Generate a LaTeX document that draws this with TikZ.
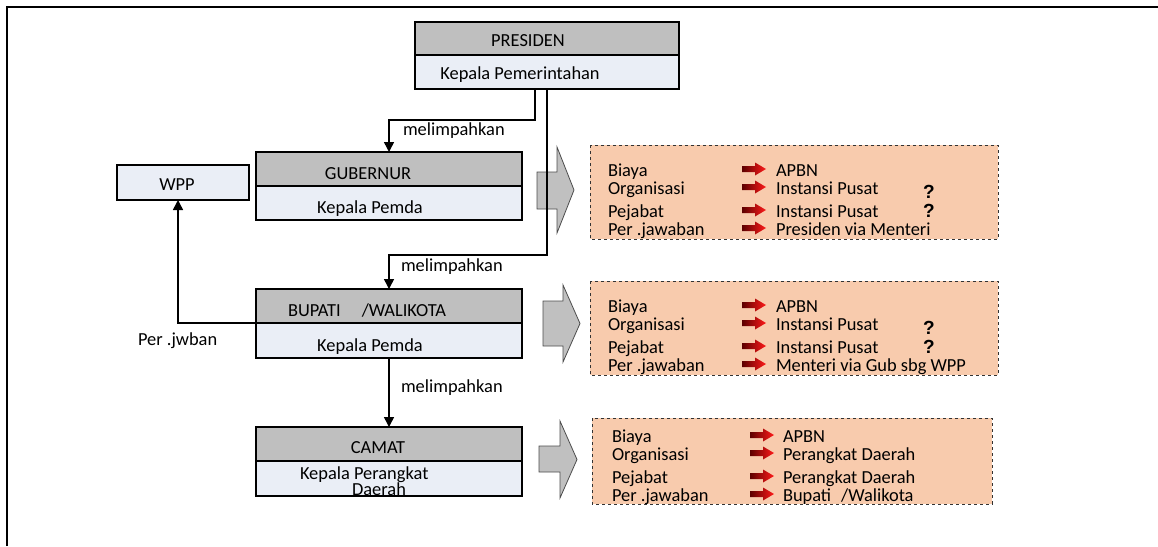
\documentclass[tikz,border=0pt]{standalone}
\usepackage{fontspec}
\setmainfont{Carlito}
\newfontfamily\qfont{Liberation Sans}
\usetikzlibrary{arrows.meta}
\definecolor{hdrgray}{HTML}{BFBFBF}
\definecolor{bodyblue}{HTML}{EAEEF6}
\definecolor{peach}{HTML}{F8CBAD}
\definecolor{darkred}{HTML}{5C0000}
\definecolor{brightred}{HTML}{FF1A1A}
\definecolor{arrowgray}{HTML}{C0C0C0}
\newcommand{\redarrow}[2]{\shade[left color=darkred, right color=brightred] (#1,#2-3) -- ++(13,0) -- ++(0,-3.5) -- ++(11,6.5) -- ++(-11,6.5) -- ++(0,-3.5) -- ++(-13,0) -- cycle;}
\newcommand{\blockarr}[7]{\draw[blockarrow] (#1,#4) -- (#2,#4) -- (#2,#6) -- (#3,{(#6+#7)/2}) -- (#2,#7) -- (#2,#5) -- (#1,#5) -- cycle;}
% name, labelx, arrowx, valuex, baseline, label, value
\newcommand{\inforow}[7]{%
  \node[ltxt] (#1l) at (#2,#5) {#6};
  \redarrow{#3}{#5-7}
  \node[ltxt] (#1v) at (#4,#5) {#7};}
\begin{document}
\begin{tikzpicture}[x=1pt,y=-1pt,
  every node/.style={font=\fontsize{18.4}{20}\selectfont, inner sep=0pt, outer sep=0pt},
  hdr/.style={draw=black, line width=1.8pt, fill=hdrgray},
  bodybox/.style={draw=black, line width=1.8pt, fill=bodyblue},
  txt/.style={anchor=base},
  ltxt/.style={anchor=base west},
  conn/.style={line width=1.5pt, -{Triangle[width=10pt,length=10pt]}},
  info/.style={draw=black!80, dashed, line width=1pt, fill=peach},
  blockarrow/.style={fill=arrowgray, draw=black!70, line width=0.8pt},
  qmark/.style={anchor=base, font=\qfont\bfseries\fontsize{19}{20}\selectfont},
]
\useasboundingbox (0,0) rectangle (1158,546);
% outer frame (top and left)
\draw[line width=2pt] (7,546) -- (7,7) -- (1158,7);

% boxes
\node[hdr, minimum width=264pt, minimum height=33pt] (presh) at (547,38.5) {};
\node[bodybox, minimum width=264pt, minimum height=34pt] (presb) at (547,72) {};
\node[hdr, minimum width=266pt, minimum height=34pt] (gubh) at (389,169) {};
\node[bodybox, minimum width=266pt, minimum height=34pt] (gubb) at (389,203) {};
\node[hdr, minimum width=266pt, minimum height=34pt] (buph) at (389,306) {};
\node[bodybox, minimum width=266pt, minimum height=35pt] (bupb) at (389,340.5) {};
\node[hdr, minimum width=266pt, minimum height=34pt] (camh) at (389,444) {};
\node[bodybox, minimum width=266pt, minimum height=35pt] (camb) at (389,478.5) {};
\node[bodybox, minimum width=132pt, minimum height=35pt] (wpp) at (183,182.5) {};

% box texts
\node[txt] (tpres) at (528,46) {PRESIDEN};
\node[txt] (tpresb) at (520,79) {Kepala Pemerintahan};
\node[txt] (tgub) at (368,179) {GUBERNUR};
\node[txt] (tgubb) at (370,213) {Kepala Pemda};
\node[ltxt] (tbup) at (288,316) {BUPATI\hspace{21pt}/WALIKOTA};
\node[txt] (tbupb) at (370,351) {Kepala Pemda};
\node[txt] (tcam) at (378,453) {CAMAT};
\node[ltxt] (tcamb) at (300,479) {Kepala Perangkat};
\begin{scope}
\clip (256,461) rectangle (522,496);
\node[txt] (tcamc) at (379,495) {Daerah};
\end{scope}
\node[txt] (twpp) at (177,190) {WPP};

% labels
\node[ltxt] (lm1) at (403,135) {melimpahkan};
\node[ltxt] (lm2) at (401,271) {melimpahkan};
\node[ltxt] (lm3) at (401,392) {melimpahkan};
\node[ltxt] (ljw) at (138,345) {Per .jwban};

% gray block arrows
\blockarr{537}{557}{574}{172}{209}{147}{233}
\blockarr{543}{563}{580}{301}{346}{285}{362}
\blockarr{539}{560}{577}{446}{472}{421}{498}

% connectors
\draw[conn] ([xshift=-12pt]presb.south) -- ++(0,31) -| (gubh.north);
\draw[conn] (presb.south) -- ++(0,166) -| (buph.north);
\draw[conn] (bupb.south) -- (camh.north);
\draw[conn] (bupb.north west) -| ([xshift=-5pt]wpp.south);

% info boxes
\draw[info] (590,145) rectangle (998,239);
\inforow{a1}{608}{742}{776}{176}{Biaya}{APBN}
\inforow{a2}{608}{742}{776}{194}{Organisasi}{Instansi Pusat}
\inforow{a3}{608}{742}{776}{217}{Pejabat}{Instansi Pusat}
\inforow{a4}{608}{742}{776}{235}{Per .jawaban}{Presiden via Menteri}
\node[qmark] (q1) at (929,198) {?};
\node[qmark] (q2) at (929,217) {?};

\draw[info] (590,281) rectangle (998,375);
\inforow{b1}{608}{742}{776}{312}{Biaya}{APBN}
\inforow{b2}{608}{742}{776}{330}{Organisasi}{Instansi Pusat}
\inforow{b3}{608}{742}{776}{353}{Pejabat}{Instansi Pusat}
\inforow{b4}{608}{742}{776}{371}{Per .jawaban}{Menteri via Gub sbg WPP}
\node[qmark] (q3) at (929,334) {?};
\node[qmark] (q4) at (929,353) {?};

\draw[info] (592,418) rectangle (992,504);
\inforow{c1}{612}{750}{783}{442}{Biaya}{APBN}
\inforow{c2}{612}{750}{783}{460}{Organisasi}{Perangkat Daerah}
\inforow{c3}{612}{750}{783}{483}{Pejabat}{Perangkat Daerah}
\inforow{c4}{612}{750}{783}{501}{Per .jawaban}{Bupati\hspace{10pt}/Walikota}
\end{tikzpicture}
\end{document}
